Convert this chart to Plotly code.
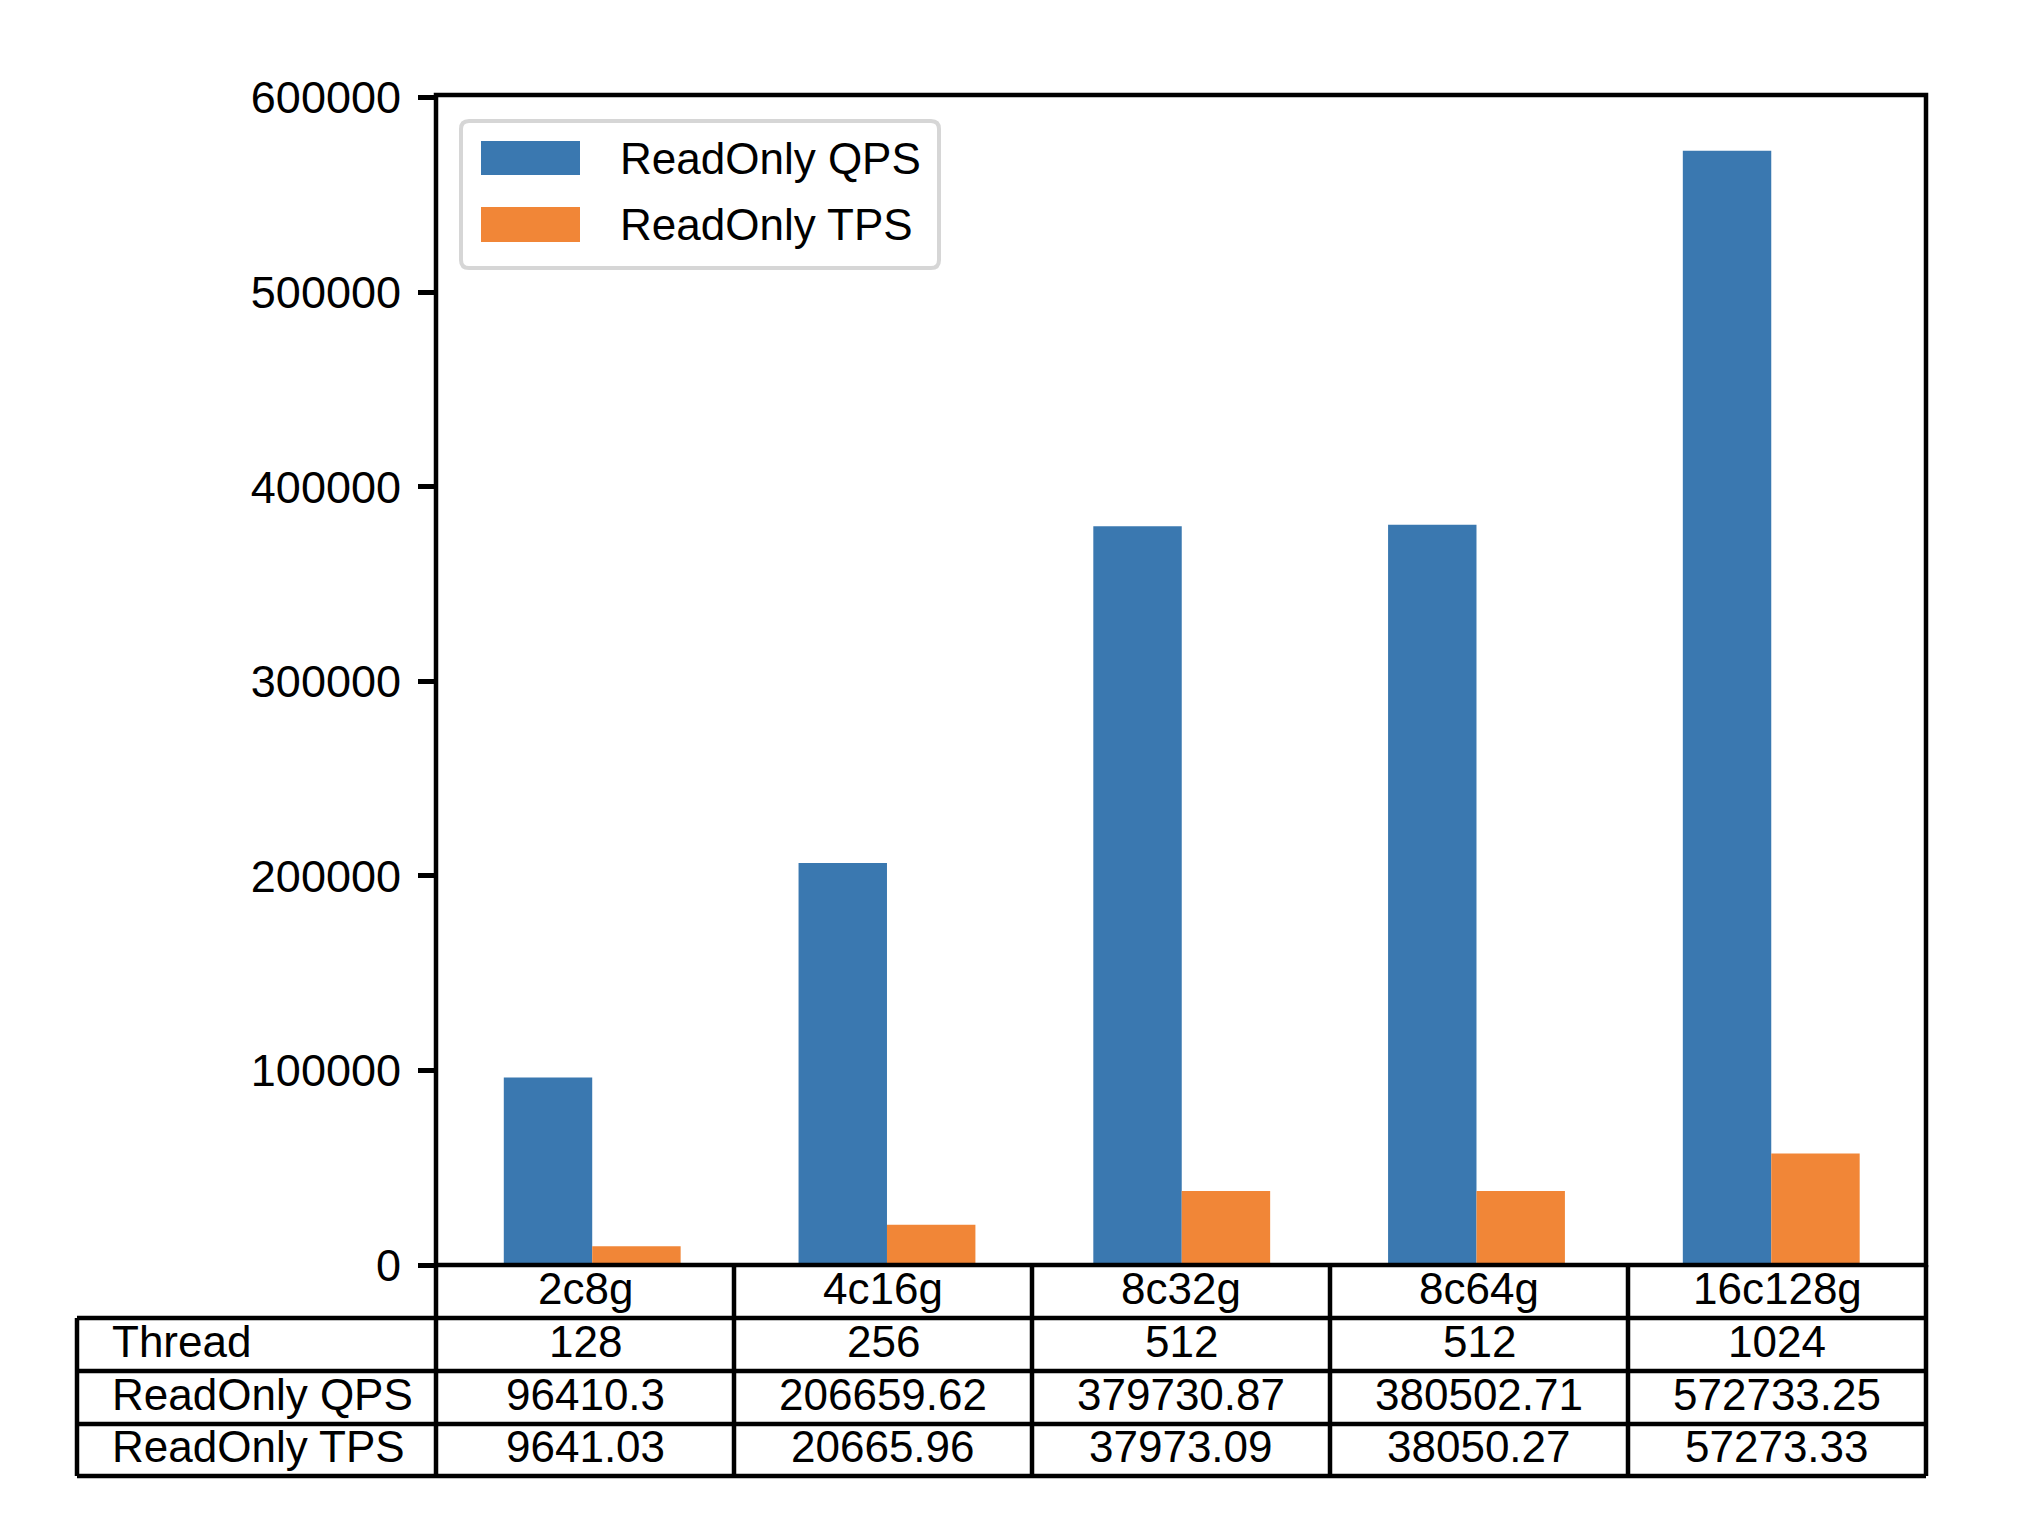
import plotly.graph_objects as go

categories = ["2c8g", "4c16g", "8c32g", "8c64g", "16c128g"]
threads = ["128", "256", "512", "512", "1024"]
qps = [96410.3, 206659.62, 379730.87, 380502.71, 572733.25]
tps = [9641.03, 20665.96, 37973.09, 38050.27, 57273.33]
qps_labels = ["96410.3", "206659.62", "379730.87", "380502.71", "572733.25"]
tps_labels = ["9641.03", "20665.96", "37973.09", "38050.27", "57273.33"]
yticks = [0, 100000, 200000, 300000, 400000, 500000, 600000]
BLUE, ORANGE = "#3A78B0", "#F18637"
FONT = "Liberation Sans"
FS = 44

OFF = 8
L, T, PW, PH = 436, 95, 1490, 1170
BOTTOM = T + PH
def py(p):
    return (BOTTOM - p) / PH
def px(p):
    return (p - L) / PW

fig = go.Figure()
fig.add_bar(x=categories, y=qps, name="ReadOnly QPS", marker_color=BLUE, marker_line_width=0)
fig.add_bar(x=categories, y=tps, name="ReadOnly TPS", marker_color=ORANGE, marker_line_width=0)

shapes, annos = [], []
LW = 4.5
rows = [1265, 1318, 1371, 1424, 1476]
TL = 77
kw = dict(xref="paper", yref="paper")
line = dict(color="black", width=LW)
# plot frame
shapes.append(dict(type="rect", x0=0, x1=1, y0=0, y1=1, line=line, **kw))
# table lines
for r in rows[1:]:
    shapes.append(dict(type="line", x0=px(TL), x1=1, y0=py(r), y1=py(r), line=line, **kw))
for k in range(6):
    shapes.append(dict(type="line", x0=k/5, x1=k/5, y0=py(rows[0]), y1=py(rows[-1]), line=line, **kw))
shapes.append(dict(type="line", x0=px(TL), x1=px(TL), y0=py(rows[1]), y1=py(rows[-1]), line=line, **kw))

f = dict(family=FONT, size=FS, color="black")
table = [("", categories), ("Thread", threads), ("ReadOnly QPS", qps_labels), ("ReadOnly TPS", tps_labels)]
for i, (name, vals) in enumerate(table):
    yc = (rows[i] + rows[i+1]) / 2 - 3
    if name:
        annos.append(dict(x=px(110), y=py(yc), text=name, showarrow=False,
                          xanchor="left", yanchor="middle", font=f, **kw))
    for k, v in enumerate(vals):
        annos.append(dict(x=(k+0.5)/5, y=py(yc), text=v, showarrow=False,
                          xanchor="center", yanchor="middle", font=f, **kw))

# legend box
x0, x1, y0, y1, rad = 461, 939, 121, 268, 8
shapes.append(dict(type="path", fillcolor="white", line=dict(color="#D6D6D6", width=4),
    path=f"M{px(x0+rad)},{py(y0)} L{px(x1-rad)},{py(y0)} Q{px(x1)},{py(y0)} {px(x1)},{py(y0+rad)} "
         f"L{px(x1)},{py(y1-rad)} Q{px(x1)},{py(y1)} {px(x1-rad)},{py(y1)} "
         f"L{px(x0+rad)},{py(y1)} Q{px(x0)},{py(y1)} {px(x0)},{py(y1-rad)} "
         f"L{px(x0)},{py(y0+rad)} Q{px(x0)},{py(y0)} {px(x0+rad)},{py(y0)} Z", **kw))
for name, col, ya, yb in [("ReadOnly QPS", BLUE, 141, 175), ("ReadOnly TPS", ORANGE, 207, 242)]:
    shapes.append(dict(type="rect", x0=px(481), x1=px(580), y0=py(ya), y1=py(yb),
                       fillcolor=col, line_width=0, **kw))
    annos.append(dict(x=px(618), y=py((ya+yb)/2), text=name, showarrow=False,
                      xanchor="left", yanchor="middle", font=f, **kw))

fig.update_layout(
    width=2010, height=1508,
    margin=dict(l=L-OFF, t=T-OFF, r=2010-(L-OFF)-PW, b=1508-(T-OFF)-PH, pad=0, autoexpand=False),
    paper_bgcolor="white", plot_bgcolor="white",
    barmode="group", bargap=0.4, bargroupgap=0, showlegend=False,
    shapes=shapes, annotations=annos,
    font=dict(family=FONT, size=FS, color="black"),
)
fig.update_xaxes(type="category", range=[-0.53, 4.525], showgrid=False, zeroline=False, ticks="", showline=False,
                 showticklabels=False, fixedrange=True)
fig.update_yaxes(range=[0, 601370], tickvals=yticks, ticktext=[str(v) for v in yticks], showgrid=False, zeroline=False,
                 ticks="outside", ticklen=17, tickwidth=LW, tickcolor="black", showline=False,
                 tickfont=dict(family=FONT, size=45), fixedrange=True, ticklabelstandoff=8)
fig.write_html("out.html")
